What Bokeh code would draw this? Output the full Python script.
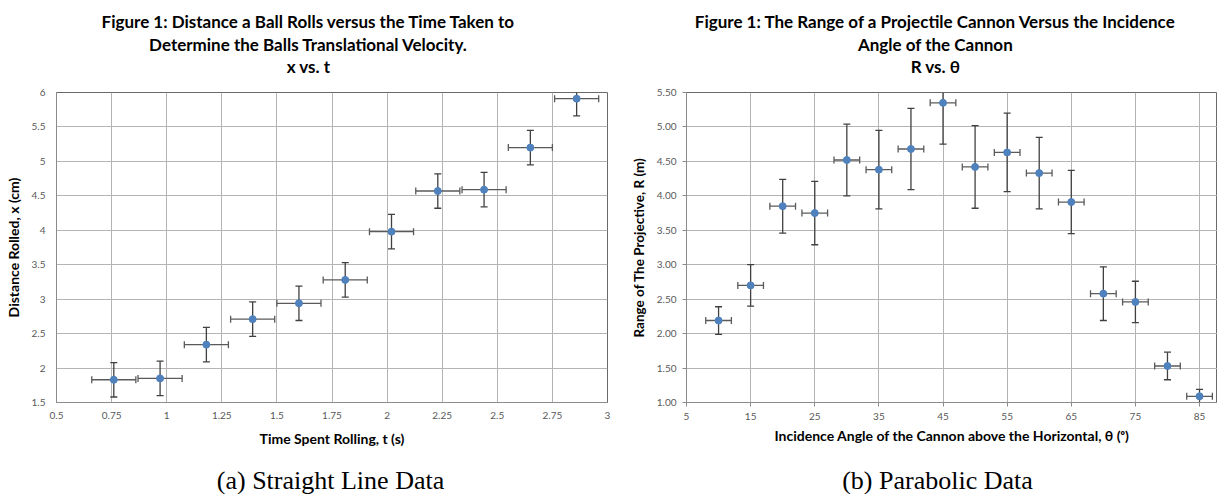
from bokeh.plotting import figure
from bokeh.layouts import row, column
from bokeh.models import Range1d, FixedTicker, CustomJSTickFormatter, PrintfTickFormatter
from bokeh.core.properties import value
from bokeh.embed import file_html
from bokeh.resources import INLINE
import numpy as np

# ---------------- data: (a) straight line ----------------
t_vals = [0.76, 0.97, 1.18, 1.39, 1.60, 1.81, 2.02, 2.23, 2.44, 2.65, 2.86]
x_vals = [1.83, 1.85, 2.34, 2.71, 2.94, 3.28, 3.98, 4.57, 4.59, 5.20, 5.91]
t_err = [0.1] * 11
x_err = [0.25] * 11
a_xticks = [0.5, 0.75, 1, 1.25, 1.5, 1.75, 2, 2.25, 2.5, 2.75, 3]
a_yticks = [1.5, 2, 2.5, 3, 3.5, 4, 4.5, 5, 5.5, 6]

# ---------------- data: (b) parabolic ----------------
angle = [10, 15, 20, 25, 30, 35, 40, 45, 50, 55, 60, 65, 70, 75, 80, 85]
R_vals = [2.19, 2.70, 3.85, 3.75, 4.52, 4.38, 4.68, 5.35, 4.42, 4.63, 4.33, 3.91, 2.58, 2.46, 1.53, 1.09]
R_err = [0.20, 0.30, 0.39, 0.46, 0.52, 0.57, 0.59, 0.60, 0.60, 0.57, 0.52, 0.46, 0.39, 0.30, 0.20, 0.10]
angle_err = [2] * 16
b_xticks = [5, 15, 25, 35, 45, 55, 65, 75, 85]
b_yticks = [1.0, 1.5, 2.0, 2.5, 3.0, 3.5, 4.0, 4.5, 5.0, 5.5]

title_a = ["Figure 1: Distance a Ball Rolls versus the Time Taken to",
           "Determine the Balls Translational Velocity.",
           "x vs. t"]
title_b = ["Figure 1: The Range of a Projectile Cannon Versus the Incidence",
           "Angle of the Cannon",
           "R vs. \u03b8"]
captions = ["(a) Straight Line Data", "(b) Parabolic Data"]

FONT = "Lato"
GRID = "#b4b4b4"
TICK = "#595959"
MARK = "#4f81bd"
BAR = "#404040"
W_A, W_B = 615, 602
W = W_A + W_B
H_HEAD, H_MAIN, H_FOOT = 84, 372, 38


def style(p, xt, yt):
    p.xaxis.ticker = FixedTicker(ticks=xt)
    p.yaxis.ticker = FixedTicker(ticks=yt)
    p.xgrid.ticker = FixedTicker(ticks=xt)
    p.ygrid.ticker = FixedTicker(ticks=yt)
    p.grid.grid_line_color = GRID
    p.grid.grid_line_width = 1
    p.outline_line_color = "#6a6a6a"
    p.outline_line_width = 1
    for ax in (p.xaxis[0], p.yaxis[0]):
        ax.axis_line_color = "#8c8c8c"
        ax.minor_tick_line_color = None
        ax.major_label_text_font = FONT
        ax.major_label_text_font_size = "10px"
        ax.major_label_text_color = TICK
        ax.axis_label_text_font = FONT
        ax.axis_label_text_font_style = "bold"
        ax.axis_label_text_color = "#000000"


def errors(p, xs, ys, xe, ye):
    xs = np.array(xs, float); ys = np.array(ys, float)
    xe = np.array(xe, float); ye = np.array(ye, float)
    p.segment(xs - xe, ys, xs + xe, ys, line_color="#5a5a5a", line_width=1.3)
    p.segment(xs, ys - ye, xs, ys + ye, line_color=BAR, line_width=1.3)
    p.scatter(np.concatenate([xs, xs]), np.concatenate([ys - ye, ys + ye]),
              marker="dash", size=7, line_color=BAR, line_width=1.3)
    p.scatter(np.concatenate([xs - xe, xs + xe]), np.concatenate([ys, ys]),
              marker="dash", angle=np.pi / 2, size=7, line_color="#5a5a5a", line_width=1.3)
    p.scatter(xs, ys, marker="circle", size=7, fill_color=MARK, line_color=MARK)


def blank(width, height):
    p = figure(width=width, height=height, output_backend="svg", toolbar_location=None,
               x_range=Range1d(0, width), y_range=Range1d(height, 0),
               x_axis_type=None, y_axis_type=None,
               min_border_left=0, min_border_right=0, min_border_top=0, min_border_bottom=0)
    p.outline_line_color = None
    p.grid.visible = False
    return p


# ---------------- header with the two titles ----------------
head = blank(W, H_HEAD)
for lines, cx in ((title_a, 308), (title_b, 935)):
    head.text(x=[cx] * 3, y=[21, 44, 66], text=lines, text_align="center",
              text_baseline="alphabetic", text_font=value(FONT), text_font_style="bold",
              text_font_size="17px", text_color="#000000")

# ---------------- figure (a) ----------------
pa = figure(width=W_A, height=H_MAIN, output_backend="svg", toolbar_location=None,
            x_range=Range1d(0.5, 3), y_range=Range1d(1.5, 6),
            min_border_left=56, min_border_right=8, min_border_top=6, min_border_bottom=54)
style(pa, a_xticks, a_yticks)
pa.xaxis.formatter = CustomJSTickFormatter(code="return String(Math.round(tick*100)/100);")
pa.yaxis.formatter = CustomJSTickFormatter(code="return String(Math.round(tick*100)/100);")
pa.xaxis.major_tick_out = 0
pa.xaxis.major_tick_in = 0
pa.yaxis.major_tick_out = 0
pa.yaxis.major_tick_in = 0
pa.xaxis.major_label_standoff = 9
pa.yaxis.major_label_standoff = 11
pa.xaxis.axis_label = "Time Spent Rolling, t (s)"
pa.yaxis.axis_label = "Distance Rolled, x (cm)"
pa.xaxis.axis_label_text_font_size = "14px"
pa.yaxis.axis_label_text_font_size = "14px"
pa.xaxis.axis_label_standoff = 8
pa.yaxis.axis_label_standoff = 7
errors(pa, t_vals, x_vals, t_err, x_err)

# ---------------- figure (b) ----------------
pb = figure(width=W_B, height=H_MAIN, output_backend="svg", toolbar_location=None,
            x_range=Range1d(5, 87.8), y_range=Range1d(1.0, 5.5),
            min_border_left=71, min_border_right=0, min_border_top=8, min_border_bottom=50)
style(pb, b_xticks, b_yticks)
pb.yaxis.formatter = PrintfTickFormatter(format="%.2f")
pb.xaxis.major_tick_out = 4
pb.xaxis.major_tick_in = 0
pb.yaxis.major_tick_out = 4
pb.yaxis.major_tick_in = 0
pb.xaxis.major_tick_line_color = "#8c8c8c"
pb.yaxis.major_tick_line_color = "#8c8c8c"
pb.xaxis.major_label_standoff = 6
pb.yaxis.major_label_standoff = 6
pb.xaxis.axis_label = "Incidence Angle of the Cannon above the Horizontal, \u03b8 (\u1d52)"
pb.yaxis.axis_label = "Range of The Projective, R (m)"
pb.xaxis.axis_label_text_font_size = "14px"
pb.yaxis.axis_label_text_font_size = "13.5px"
pb.xaxis.axis_label_standoff = 4
pb.yaxis.axis_label_standoff = 7
errors(pb, angle, R_vals, angle_err, R_err)

# ---------------- footer with the captions ----------------
foot = blank(W, H_FOOT)
foot.text(x=[330, 937], y=[24, 24], text=captions, text_align="center",
          text_baseline="alphabetic", text_font=value("Liberation Serif"),
          text_font_size="26px", text_color="#000000")

layout = column(head, row(pa, pb), foot)
open("out.html", "w").write(file_html(layout, INLINE))
